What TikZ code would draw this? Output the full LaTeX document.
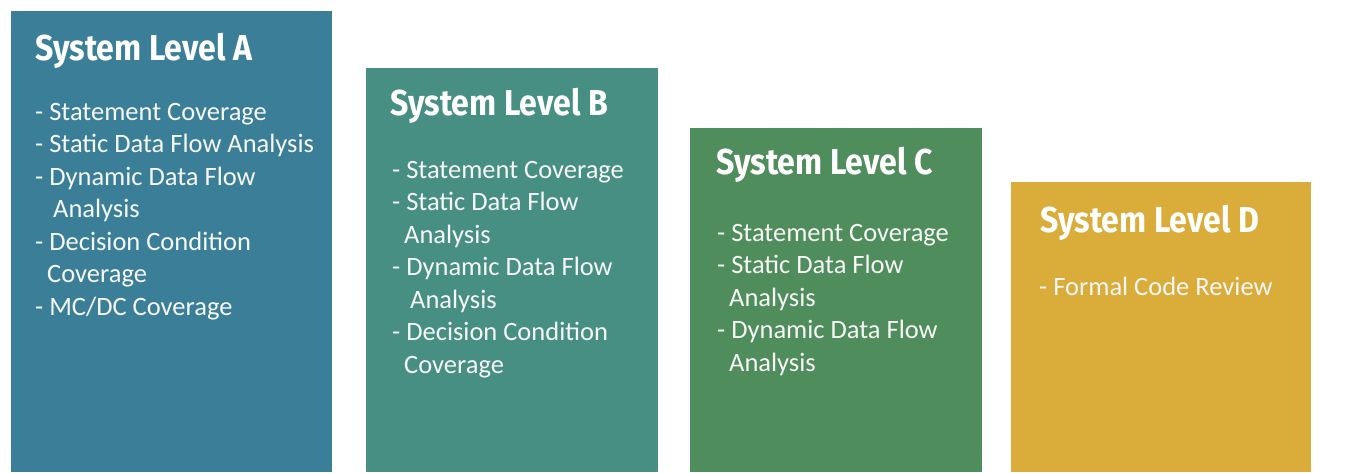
\documentclass[tikz,border=0pt]{standalone}
\usepackage{fontspec}
\setmainfont{Carlito}
\newfontfamily\headfont[FakeStretch=0.89]{Fira Sans}
\usetikzlibrary{calc}

\definecolor{levelA}{HTML}{3A7F97}
\definecolor{levelB}{HTML}{478F82}
\definecolor{levelC}{HTML}{508D5C}
\definecolor{levelD}{HTML}{DAAC3A}

\tikzset{
  levelbox/.style={fill=#1, anchor=north west, inner sep=0pt, outer sep=0pt},
  leveltitle/.style={anchor=base west, inner sep=0pt, text=white,
    font=\headfont\bfseries\fontsize{36}{36}\selectfont},
  levellist/.style={anchor=north west, inner sep=0pt, text=white!94!gray,
    align=left, font=\fontsize{26.5}{32.5}\selectfont},
}

\begin{document}
\begin{tikzpicture}[x=1pt,y=-1pt]
  \useasboundingbox (0,0) rectangle (1354,472);

  % the four level boxes
  \node[levelbox=levelA, minimum width=321pt, minimum height=461pt] (boxA) at (11,11) {};
  \node[levelbox=levelB, minimum width=292pt, minimum height=404pt] (boxB) at (366,68) {};
  \node[levelbox=levelC, minimum width=292pt, minimum height=344pt] (boxC) at (690,128) {};
  \node[levelbox=levelD, minimum width=300pt, minimum height=290pt] (boxD) at (1011,182) {};

  % titles
  \node[leveltitle] (titleA) at ($(boxA.north west)+(24,49)$) {System Level A};
  \node[leveltitle] (titleB) at ($(boxB.north west)+(24,47)$) {System Level B};
  \node[leveltitle] (titleC) at ($(boxC.north west)+(26,46)$) {System Level C};
  \node[leveltitle] (titleD) at ($(boxD.north west)+(29,50)$) {System Level D};

  % lists (first baseline sits 20pt below the node top)
  \node[levellist] (listA) at ($(boxA.north west)+(24,89)$) {\rule{0pt}{20pt}- Statement Coverage\\
    - Static Data Flow Analysis\\
    - Dynamic Data Flow\\
    \hspace*{18pt}Analysis\\
    - Decision Condition\\
    \hspace*{12pt}Coverage\\
    - MC/DC Coverage};
  \node[levellist] (listB) at ($(boxB.north west)+(26,90)$) {\rule{0pt}{20pt}- Statement Coverage\\
    - Static Data Flow\\
    \hspace*{12pt}Analysis\\
    - Dynamic Data Flow\\
    \hspace*{18pt}Analysis\\
    - Decision Condition\\
    \hspace*{12pt}Coverage};
  \node[levellist] (listC) at ($(boxC.north west)+(27,93)$) {\rule{0pt}{20pt}- Statement Coverage\\
    - Static Data Flow\\
    \hspace*{12pt}Analysis\\
    - Dynamic Data Flow\\
    \hspace*{12pt}Analysis};
  \node[levellist] (listD) at ($(boxD.north west)+(28,93)$) {\rule{0pt}{20pt}- Formal Code Review};
\end{tikzpicture}
\end{document}
